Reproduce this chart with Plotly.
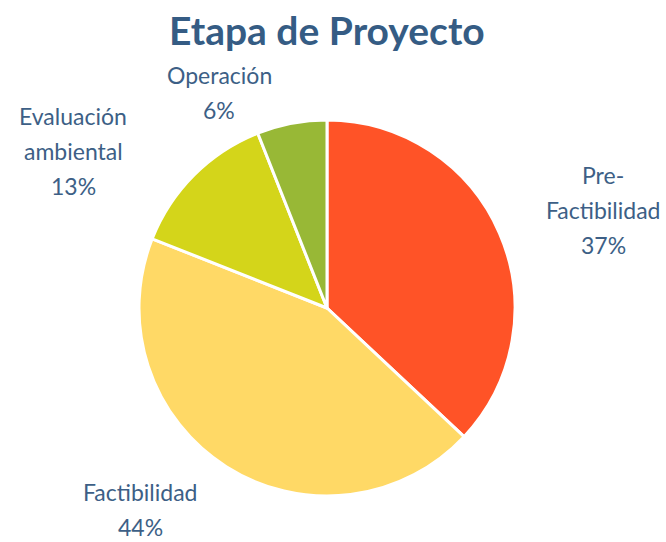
import plotly.graph_objects as go

labels = ["Pre-Factibilidad", "Factibilidad", "Evaluación ambiental", "Operación"]
label_lines = [["Pre-", "Factibilidad"], ["Factibilidad"], ["Evaluación", "ambiental"], ["Operación"]]
values = [37, 44, 13, 6]
colors = ["#FF5327", "#FFD966", "#D4D51A", "#98B836"]
title = "Etapa de Proyecto"

W, H = 666, 542
# label block layout: (centre x, first-line y) in pixels, line spacing
label_pos = [(603, 175), (140, 492), (73, 116), (219, 75)]
LINE = 35

fig = go.Figure(go.Pie(
    labels=labels, values=values, sort=False, direction="clockwise", rotation=0,
    marker=dict(colors=colors, line=dict(color="white", width=3)),
    textinfo="none", hoverinfo="label+percent", showlegend=False,
    domain=dict(x=[139 / W, 515 / W], y=[1 - 496 / H, 1 - 120 / H]),
))

total = sum(values)
font = dict(family="Lato", size=23, color="#3D5F86")
for lines, v, (px, py) in zip(label_lines, values, label_pos):
    all_lines = lines + [f"{round(100 * v / total)}%"]
    for i, t in enumerate(all_lines):
        fig.add_annotation(
            x=px / W, y=1 - (py + i * LINE) / H, xref="paper", yref="paper",
            text=t, showarrow=False, xanchor="center", yanchor="middle",
            font=font,
        )

fig.add_annotation(
    x=327 / W, y=1 - 30 / H, xref="paper", yref="paper",
    text=f"<b>{title}</b>", showarrow=False,
    xanchor="center", yanchor="middle",
    font=dict(family="Lato", size=39, color="#355C84"),
)

fig.update_layout(
    width=W, height=H, margin=dict(l=0, r=0, t=0, b=0),
    paper_bgcolor="white", plot_bgcolor="white",
)
fig.write_html("out.html", config={"displayModeBar": False},
               post_script="document.body.style.margin='0';")
